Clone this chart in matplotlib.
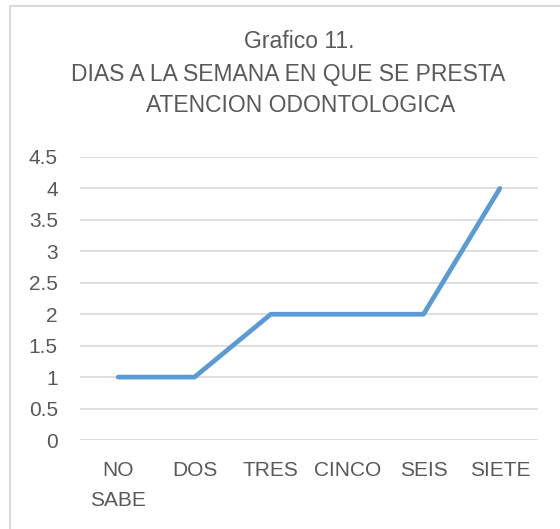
import matplotlib.pyplot as plt
from matplotlib.patches import Rectangle

# Datos del grafico
categorias = ['NO\nSABE', 'DOS', 'TRES', 'CINCO', 'SEIS', 'SIETE']
valores = [1, 1, 2, 2, 2, 4]
ticks_y = [0, 0.5, 1, 1.5, 2, 2.5, 3, 3.5, 4, 4.5]

gris = '#595959'
plt.rcParams['font.family'] = ['Liberation Sans', 'DejaVu Sans']

fig = plt.figure(figsize=(5.6, 5.29), dpi=100)
ax = fig.add_axes([80 / 560, 1 - 440 / 529, 458 / 560, 283 / 529])

x = range(len(categorias))
ax.plot(x, valores, color='#5b9bd5', linewidth=3.4, solid_capstyle='round', solid_joinstyle='round')

ax.set_xlim(-0.5, len(categorias) - 0.5)
ax.set_ylim(0, 4.5)
ax.set_yticks(ticks_y)
ax.set_yticklabels([f'{t:g}' for t in ticks_y])
ax.set_xticks(list(x))
ax.set_xticklabels(categorias, linespacing=1.75, va='top')
ax.tick_params(axis='both', length=0, colors=gris, labelsize=15)
ax.tick_params(axis='x', pad=15)
ax.tick_params(axis='y', pad=16)
for lbl in ax.get_yticklabels():
    lbl.set_horizontalalignment('right')

ax.grid(axis='y', color='#d9d9d9', linewidth=1.2)
ax.set_axisbelow(True)
for s in ax.spines.values():
    s.set_visible(False)

fig.text(299 / 560, 1 - 42 / 529, 'Grafico 11.', ha='center', va='center', color=gris, fontsize=16.5)
fig.text(288 / 560, 1 - 75 / 529, 'DIAS A LA SEMANA EN QUE SE PRESTA', ha='center', va='center', color=gris, fontsize=16.5)
fig.text(301 / 560, 1 - 106 / 529, 'ATENCION ODONTOLOGICA', ha='center', va='center', color=gris, fontsize=16.5)

# borde del area del grafico
fig.patches.append(Rectangle((9.5 / 560, -0.1), 1.2, 1 - 6.5 / 529 + 0.1, transform=fig.transFigure,
                             fill=False, edgecolor='#d9d9d9', linewidth=1.5))

fig.savefig('out.png', dpi=100)
